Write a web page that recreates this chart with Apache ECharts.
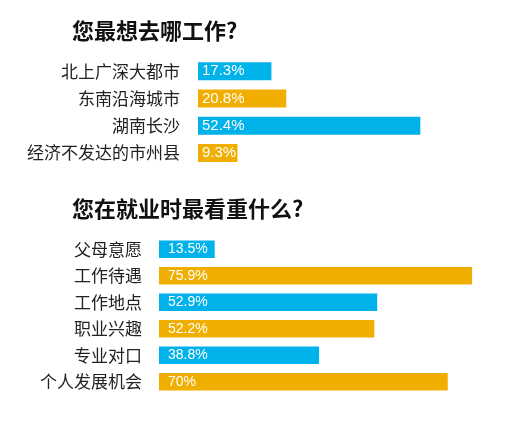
<!DOCTYPE html>
<html style="height: 100%">
<head>
<meta charset="utf-8">
<title>就业调查</title>
<script src="https://cdn.jsdelivr.net/npm/echarts@6/dist/echarts.min.js"></script>
</head>
<body style="height: 100%; margin: 0; background: #fff">
<div id="container" style="width: 518px; height: 427px"></div>
<script type="text/javascript">
var title1 = '您最想去哪工作?';
var cities = ['北上广深大都市', '东南沿海城市', '湖南长沙', '经济不发达的市州县'];
var cityValues = [17.3, 20.8, 52.4, 9.3];

var title2 = '您在就业时最看重什么?';
var factors = ['父母意愿', '工作待遇', '工作地点', '职业兴趣', '专业对口', '个人发展机会'];
var factorValues = [13.5, 75.9, 52.9, 52.2, 38.8, 70];

var blue = '#00b2ea';
var orange = '#f0ae00';
var cjk = '"Noto Sans CJK SC", sans-serif';
var latin = '"Liberation Sans", Arial, sans-serif';

function colored(values) {
    return values.map(function (v, i) {
        return { value: v, itemStyle: { color: i % 2 === 0 ? blue : orange } };
    });
}

var myChart = echarts.init(document.getElementById('container'));

var option = {
    backgroundColor: '#fff',
    animation: false,
    title: [{
        text: title1,
        left: 72,
        top: 20,
        padding: 0,
        textStyle: { fontFamily: cjk, fontSize: 22, fontWeight: 'bold', color: '#111' }
    }, {
        text: title2,
        left: 72,
        top: 198,
        padding: 0,
        textStyle: { fontFamily: cjk, fontSize: 22, fontWeight: 'bold', color: '#111' }
    }],
    grid: [
        { left: 198, top: 57.5, width: 297, height: 109 },
        { left: 159, top: 236, width: 330, height: 159 }
    ],
    xAxis: [
        { gridIndex: 0, type: 'value', min: 0, max: 70, show: false },
        { gridIndex: 1, type: 'value', min: 0, max: 80, show: false }
    ],
    yAxis: [{
        gridIndex: 0,
        type: 'category',
        inverse: true,
        data: cities,
        axisLine: { show: false },
        axisTick: { show: false },
        axisLabel: { margin: 18, fontFamily: cjk, fontSize: 17, color: '#222' }
    }, {
        gridIndex: 1,
        type: 'category',
        inverse: true,
        data: factors,
        axisLine: { show: false },
        axisTick: { show: false },
        axisLabel: { margin: 17, fontFamily: cjk, fontSize: 17, color: '#222' }
    }],
    series: [{
        type: 'bar',
        xAxisIndex: 0,
        yAxisIndex: 0,
        barWidth: 18,
        data: colored(cityValues),
        label: {
            show: true,
            position: 'insideLeft',
            distance: 4,
            formatter: '{c}%',
            fontFamily: latin,
            fontSize: 15,
            color: '#fff'
        }
    }, {
        type: 'bar',
        xAxisIndex: 1,
        yAxisIndex: 1,
        barWidth: 17.5,
        data: colored(factorValues),
        label: {
            show: true,
            position: 'insideLeft',
            distance: 9,
            formatter: '{c}%',
            fontFamily: latin,
            fontSize: 14,
            color: '#fff'
        }
    }]
};

myChart.setOption(option);
</script>
</body>
</html>
